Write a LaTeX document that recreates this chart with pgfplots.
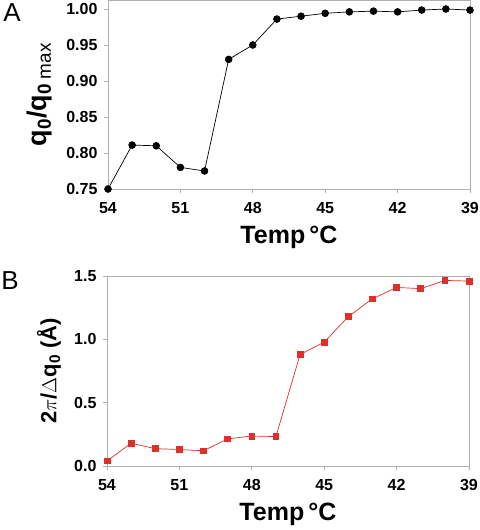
\documentclass[border=0pt]{standalone}
\usepackage{fontspec}
\setmainfont{Liberation Sans}
\usepackage{pgfplots}
\pgfplotsset{compat=1.18}
\definecolor{axgray}{RGB}{175,175,175}
\definecolor{myred}{RGB}{222,48,42}
\begin{document}
\begin{tikzpicture}
\useasboundingbox (0bp,0bp) rectangle (480bp,530bp);
\pgfplotsset{
  myaxis/.style={
    scale only axis,
    width=362bp,
    x dir=reverse,
    xmin=39, xmax=54,
    xtick={54,51,48,45,42,39},
    xtick pos=bottom, ytick pos=left,
    tick align=outside,
    major tick length=4bp,
    axis line style={draw=axgray, line width=0.8bp},
    every tick/.style={draw=axgray, line width=0.8bp},
    /pgf/number format/assume math mode=true,
    ticklabel style={font=\bfseries\fontsize{16bp}{18bp}\selectfont, text=black},
    xticklabel style={yshift=-6bp},
    yticklabel style={xshift=-3bp},
    label style={font=\bfseries\fontsize{25bp}{28bp}\selectfont},
    xlabel={Temp\,°C},
    xlabel style={at={(axis description cs:0.5,0)}, anchor=center, yshift=-48bp},
  }
}
\begin{axis}[myaxis,
  at={(108bp,341bp)}, anchor=south west,
  height=188.5bp,
  ymin=0.75, ymax=1.0118,
  ytick={0.75,0.80,0.85,0.90,0.95,1.00},
  yticklabel style={/pgf/number format/.cd, fixed, fixed zerofill, precision=2},
  ylabel={\fontsize{27bp}{28bp}\selectfont q\textsubscript{0}/q\textsubscript{0 \mdseries max}},
  ylabel style={at={(axis description cs:-0.19,0.5)}, anchor=center},
]
\addplot[black, line width=0.7bp, mark=*, mark size=3.4bp, mark options={fill=black}] coordinates {
(54,0.750) (53,0.811) (52,0.810) (51,0.780) (50,0.775) (49,0.930) (48,0.950) (47,0.986)
(46,0.990) (45,0.994) (44,0.996) (43,0.997) (42,0.996) (41,0.9985) (40,1.000) (39,0.9985)
};
\end{axis}
\begin{axis}[myaxis,
  at={(107bp,64bp)}, anchor=south west,
  height=190bp,
  ymin=0, ymax=1.5,
  ytick={0,0.5,1.0,1.5},
  yticklabel style={/pgf/number format/.cd, fixed, fixed zerofill, precision=1},
  ylabel={\fontsize{22bp}{24bp}\selectfont 2$\pi$/$\Delta$q\textsubscript{0} (Å)},
  ylabel style={at={(axis description cs:-0.16,0.5)}, anchor=center},
]
\addplot[myred, line width=0.7bp, mark=square*, mark size=2.9bp, mark options={fill=myred}] coordinates {
(54,0.04) (53,0.18) (52,0.137) (51,0.13) (50,0.12) (49,0.214) (48,0.237) (47,0.232)
(46,0.88) (45,0.978) (44,1.18) (43,1.32) (42,1.41) (41,1.40) (40,1.465) (39,1.46)
};
\end{axis}
\node[font=\fontsize{26bp}{28bp}\selectfont] at (12bp,517bp) {A};
\node[font=\fontsize{26bp}{28bp}\selectfont] at (10bp,249bp) {B};
\end{tikzpicture}
\end{document}
